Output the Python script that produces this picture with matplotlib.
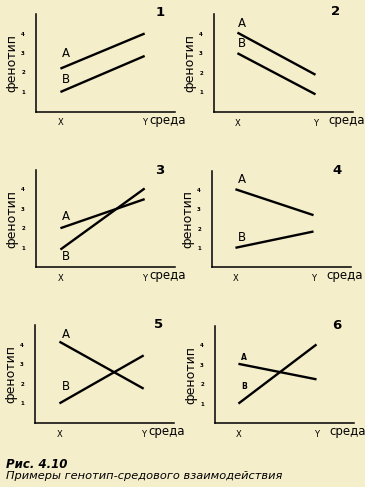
import matplotlib.pyplot as plt

# values: phenotype at environment X and Y
env = [1, 2]
a_vals = [[2.2, 4.0], [4.05, 1.9], [2.0, 3.5], [4.05, 2.7], [4.15, 1.75], [3.05, 2.25]]
b_vals = [[1.0, 2.85], [3.0, 0.9], [0.9, 4.05], [1.0, 1.85], [1.0, 3.45], [1.0, 4.05]]
yticks = [1, 2, 3, 4]
xlabels = ['X', 'Y']
panel_names = ['1', '2', '3', '4', '5', '6']

# label positions (data coords)
a_pos = [(1.06, 2.96), (1.06, 4.54), (1.06, 2.58), (1.08, 4.54), (1.08, 4.54), (1.07, 3.40)]
b_pos = [(1.06, 1.62), (1.06, 3.48), (1.06, 0.52), (1.08, 1.55), (1.08, 1.86), (1.07, 1.86)]
num_pos = [(2.18, 5.08), (2.26, 5.13), (2.18, 5.0), (2.30, 5.0), (2.18, 5.05), (2.26, 5.05)]

# axes rects in pixels: left, top, bottom
rects = [(36, 14, 111.5), (214, 14, 112), (36, 170, 267),
         (212, 171, 267), (35, 325, 423), (215, 326, 423)]

bg = '#f5eecb'
W, H = 365, 487
fig = plt.figure(figsize=(W / 100, H / 100), dpi=100, facecolor=bg)

for i in range(6):
    left, top, bot = rects[i]
    ax = fig.add_axes([left / W, 1 - bot / H, 139 / W, (bot - top) / H])
    ax.set_facecolor('none')
    right_col = i % 2 == 1
    ax.set_xlim(0.7, 2.48) if right_col else ax.set_xlim(0.71, 2.36)
    ax.set_ylim(0, 5)
    for s in ['top', 'right']:
        ax.spines[s].set_visible(False)
    for s in ['left', 'bottom']:
        ax.spines[s].set_linewidth(1.1)
    ax.plot(env, a_vals[i], color='black', lw=1.7, solid_capstyle='butt')
    ax.plot(env, b_vals[i], color='black', lw=1.7, solid_capstyle='butt')
    ax.set_yticks(yticks)
    ax.set_yticklabels([str(t) for t in yticks], fontsize=4, fontweight='bold')
    ax.set_xticks(env)
    ax.set_xticklabels(xlabels, fontsize=6)
    ax.tick_params(axis='y', length=0, pad=8)
    ax.tick_params(axis='x', length=0, pad=5)

    small = i == 5
    ax.text(*a_pos[i], 'A', fontsize=5.5 if small else 8.5, ha='center', va='center',
            fontweight='bold' if small else 'normal')
    ax.text(*b_pos[i], 'B', fontsize=5.5 if small else 8.5, ha='center', va='center',
            fontweight='bold' if small else 'normal')
    ax.text(*num_pos[i], panel_names[i], fontsize=9.5, fontweight='bold',
            ha='center', va='center', clip_on=False)
    ax.text(2.16 if right_col else 2.05, -0.45, 'среда', fontsize=8.5,
            ha='left', va='center', clip_on=False)
    ax.text(-0.17, 0.5, 'фенотип', fontsize=9, rotation=90, ha='center',
            va='center', transform=ax.transAxes)

fig.text(6 / W, 1 - 464 / H, 'Рис. 4.10', fontsize=8.5, fontweight='bold',
         style='italic', ha='left', va='center')
fig.text(6 / W, 1 - 476 / H, 'Примеры генотип-средового взаимодействия',
         fontsize=8.2, style='italic', ha='left', va='center')

fig.savefig('out.png', dpi=100, facecolor=bg)
